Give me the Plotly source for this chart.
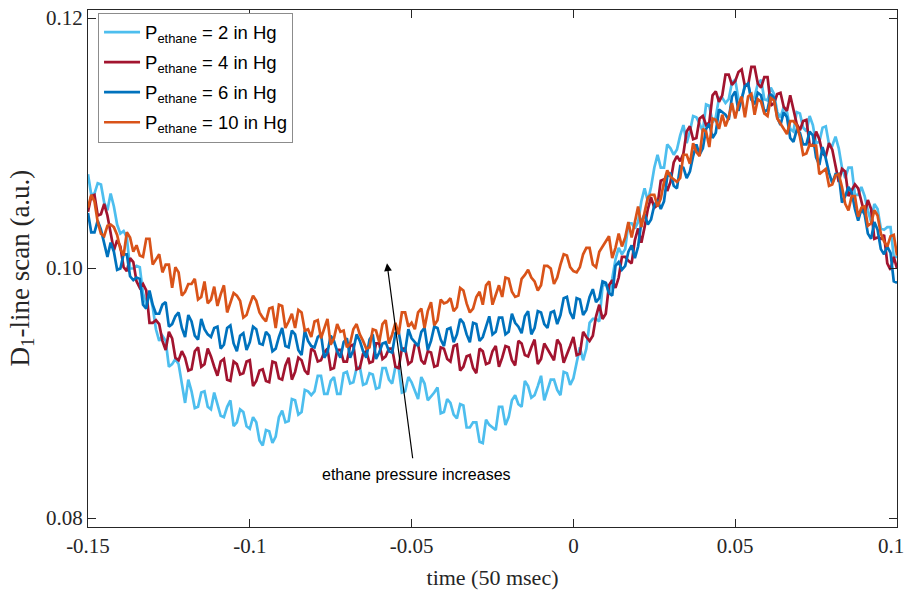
import numpy as np
import plotly.graph_objects as go

# time axis (50 msec units): samples every 0.001 from -0.15 to 0.10
time = np.round(np.linspace(-0.15, 0.10, 251), 4)

# D1-line scan signal, raw readings (units of 1e-4) taken against the frame edges;
# converted below to axis units with the frame calibration (frame = 0.07928 .. 0.12064).
# "_even" = samples at -0.150, -0.148, ... ; "_odd" = samples at -0.149, -0.147, ...
p2_even = [1073, 1058, 1065, 1045, 1048, 1027, 1024, 1000, 1001, 972,
           970, 944, 944, 926, 926, 896, 905, 893, 905, 891,
           895, 885, 898, 881, 889, 876, 881, 863, 874, 870,
           890, 882, 898, 889, 905, 905, 917, 903, 916, 903,
           920, 912, 924, 911, 918, 908, 923, 911, 923, 905,
           912, 899, 911, 901, 908, 889, 896, 884, 894, 877,
           881, 865, 879, 875, 893, 885, 902, 893, 909, 902,
           917, 906, 914, 902, 919, 915, 939, 938, 961, 959,
           989, 992, 1016, 1015, 1035, 1036, 1062, 1063, 1088, 1078,
           1093, 1092, 1111, 1106, 1117, 1106, 1126, 1117, 1132, 1131,
           1146, 1131, 1143, 1133, 1146, 1130, 1135, 1117, 1121, 1106,
           1120, 1106, 1111, 1098, 1110, 1095, 1093, 1070, 1078, 1057,
           1056, 1036, 1046, 1030, 1032, 1009]
p2_odd = [1057, 1066, 1051, 1058, 1034, 1029, 1000, 1002, 981, 981,
          953, 948, 924, 930, 910, 914, 892, 904, 893, 904,
          886, 893, 878, 891, 878, 885, 867, 875, 865, 885,
          881, 899, 887, 906, 902, 917, 903, 913, 903, 919,
          911, 923, 910, 919, 907, 923, 914, 924, 904, 916,
          906, 916, 898, 904, 888, 899, 887, 895, 877, 881,
          866, 883, 877, 893, 879, 898, 895, 913, 900, 909,
          898, 914, 906, 920, 910, 928, 929, 958, 961, 986,
          980, 1007, 1011, 1035, 1031, 1052, 1052, 1078, 1078, 1096,
          1088, 1103, 1097, 1118, 1112, 1127, 1113, 1132, 1128, 1144,
          1131, 1142, 1130, 1143, 1131, 1140, 1121, 1125, 1108, 1121,
          1109, 1118, 1097, 1109, 1096, 1102, 1078, 1078, 1057, 1063,
          1045, 1050, 1031, 1032, 1009]

p4_even = [1044, 1057, 1042, 1041, 1014, 1017, 998, 1005, 985, 983,
           958, 957, 937, 946, 929, 931, 922, 939, 926, 932,
           917, 930, 913, 926, 919, 929, 913, 922, 912, 927,
           914, 931, 920, 929, 918, 936, 929, 938, 923, 937,
           928, 941, 923, 936, 928, 942, 932, 938, 923, 938,
           928, 941, 926, 935, 925, 938, 928, 941, 924, 933,
           919, 936, 927, 940, 931, 939, 925, 942, 932, 945,
           930, 938, 929, 941, 933, 947, 934, 947, 948, 972,
           965, 991, 993, 1009, 1004, 1031, 1032, 1055, 1049, 1069,
           1067, 1087, 1089, 1110, 1101, 1118, 1113, 1137, 1134, 1150,
           1145, 1154, 1142, 1156, 1140, 1148, 1128, 1136, 1122, 1123,
           1107, 1115, 1095, 1100, 1087, 1092, 1067, 1075, 1060, 1062,
           1042, 1046, 1024, 1026, 999, 1000]
p4_odd = [1056, 1041, 1050, 1027, 1022, 1001, 1008, 990, 988, 958,
          960, 944, 951, 931, 936, 921, 936, 924, 938, 924,
          928, 914, 928, 918, 928, 909, 921, 913, 928, 915,
          925, 914, 931, 921, 938, 928, 935, 922, 937, 928,
          940, 922, 934, 927, 942, 930, 938, 924, 938, 926,
          941, 929, 936, 924, 939, 930, 940, 921, 932, 923,
          938, 926, 936, 924, 940, 929, 944, 933, 939, 926,
          942, 933, 945, 927, 940, 933, 951, 944, 963, 961,
          987, 985, 1009, 1006, 1022, 1020, 1046, 1047, 1068, 1060,
          1082, 1083, 1106, 1100, 1116, 1111, 1134, 1129, 1150, 1142,
          1152, 1141, 1156, 1143, 1148, 1126, 1135, 1125, 1134, 1112,
          1114, 1096, 1106, 1089, 1097, 1078, 1077, 1056, 1065, 1051,
          1053, 1023, 1023, 1004, 1009]

p6_even = [1043, 1028, 1030, 1009, 1013, 1000, 1011, 991, 992, 969,
           972, 965, 974, 957, 966, 947, 959, 945, 953, 947,
           955, 941, 956, 936, 950, 943, 953, 941, 948, 938,
           954, 939, 949, 933, 944, 939, 949, 935, 944, 931,
           946, 937, 944, 931, 949, 935, 943, 935, 951, 936,
           946, 940, 954, 944, 954, 940, 954, 949, 958, 943,
           957, 947, 963, 951, 962, 951, 958, 950, 967, 954,
           966, 954, 967, 964, 978, 961, 976, 968, 984, 977,
           989, 979, 1005, 1002, 1018, 1017, 1042, 1038, 1053, 1052,
           1074, 1062, 1078, 1075, 1096, 1093, 1112, 1105, 1121, 1115,
           1137, 1131, 1143, 1127, 1134, 1123, 1132, 1111, 1117, 1098,
           1105, 1096, 1103, 1080, 1085, 1066, 1073, 1056, 1059, 1037,
           1042, 1023, 1030, 1011, 1012, 989]
p6_odd = [1028, 1037, 1020, 1020, 999, 1011, 994, 993, 972, 983,
          965, 972, 955, 963, 954, 964, 948, 961, 949, 954,
          938, 954, 942, 948, 937, 955, 942, 951, 936, 947,
          940, 952, 937, 952, 940, 947, 931, 948, 936, 943,
          931, 949, 936, 945, 930, 942, 936, 950, 937, 953,
          943, 951, 937, 955, 945, 953, 943, 961, 949, 958,
          944, 955, 949, 962, 949, 965, 955, 963, 949, 967,
          957, 966, 957, 977, 966, 977, 964, 978, 974, 990,
          981, 1002, 999, 1013, 1008, 1036, 1034, 1049, 1046, 1071,
          1064, 1079, 1070, 1087, 1088, 1108, 1101, 1123, 1119, 1133,
          1122, 1141, 1131, 1136, 1121, 1135, 1117, 1121, 1101, 1107,
          1096, 1106, 1086, 1094, 1074, 1073, 1051, 1063, 1046, 1046,
          1027, 1036, 1015, 1017, 990]

p10_even = [1047, 1052, 1027, 1033, 1032, 1015, 1028, 1013, 1010, 1023,
            1003, 1011, 1003, 985, 997, 982, 988, 976, 990, 976,
            971, 987, 973, 979, 962, 972, 975, 962, 969, 954,
            971, 959, 954, 966, 953, 959, 946, 961, 946, 951,
            939, 953, 949, 938, 953, 943, 960, 949, 949, 966,
            958, 966, 954, 974, 960, 973, 977, 970, 983, 966,
            978, 972, 990, 979, 978, 992, 978, 992, 999, 990,
            987, 1002, 988, 1003, 1010, 998, 1001, 1016, 1003, 1013,
            1021, 1008, 1027, 1024, 1024, 1048, 1043, 1057, 1048, 1067,
            1071, 1067, 1088, 1081, 1090, 1108, 1094, 1115, 1119, 1117,
            1116, 1133, 1133, 1119, 1129, 1118, 1130, 1112, 1104, 1114,
            1102, 1089, 1095, 1073, 1077, 1065, 1073, 1050, 1056, 1040,
            1048, 1035, 1041, 1021, 1025, 1010]
p10_odd = [1057, 1036, 1025, 1034, 1026, 1010, 1024, 1018, 1009, 1023,
           1007, 997, 1003, 1001, 979, 988, 992, 978, 973, 986,
           980, 966, 981, 975, 964, 979, 966, 959, 970, 972,
           954, 965, 968, 952, 947, 960, 954, 941, 957, 952,
           942, 957, 944, 939, 952, 957, 942, 958, 966, 955,
           953, 969, 967, 956, 976, 974, 967, 985, 973, 969,
           982, 987, 972, 987, 993, 982, 979, 995, 993, 983,
           1002, 1000, 993, 1011, 1001, 997, 1011, 1016, 1001, 1017,
           1025, 1016, 1017, 1036, 1037, 1032, 1055, 1057, 1054, 1076,
           1069, 1070, 1088, 1097, 1087, 1106, 1116, 1108, 1110, 1128,
           1127, 1117, 1135, 1131, 1120, 1132, 1116, 1107, 1114, 1111,
           1088, 1096, 1095, 1075, 1064, 1072, 1063, 1045, 1056, 1047,
           1033, 1045, 1027, 1017, 1026]

series_names = ["P<sub>ethane</sub> = 2 in Hg", "P<sub>ethane</sub> = 4 in Hg",
                "P<sub>ethane</sub> = 6 in Hg", "P<sub>ethane</sub> = 10 in Hg"]
series_even = [p2_even, p4_even, p6_even, p10_even]
series_odd = [p2_odd, p4_odd, p6_odd, p10_odd]
colors = ["#4DBEEE", "#A2142F", "#0072BD", "#D95319"]

# the last x label ("0.1") sits on the figure edge, so it is drawn as an annotation
x_tickvals = [-0.15, -0.1, -0.05, 0, 0.05, 0.1]
x_ticktext = ["-0.15", "-0.1", "-0.05", "0", "0.05", ""]
x_edge_label = "0.1"
y_tickvals = [0.08, 0.10, 0.12]
y_ticktext = ["0.08", "0.10", "0.12"]

# frame calibration: raw readings spanned 0.08..0.12 across the frame,
# the axis frame actually spans 0.07928..0.12064
Y_LO, Y_HI = 0.07928, 0.12064


def to_axis(raw):
    frac = (np.asarray(raw, dtype=float) * 1e-4 - 0.08) / 0.04
    return Y_LO + frac * (Y_HI - Y_LO)


fig = go.Figure()
for k, (name, ev, od, col) in enumerate(zip(series_names, series_even, series_odd, colors)):
    y = np.empty(len(ev) + len(od))
    y[0::2] = ev
    y[1::2] = od
    fig.add_trace(go.Scatter(
        x=time, y=to_axis(y), mode="lines", name=name, legendgroup=f"g{k}",
        line=dict(color=col, width=2.7)))

serif = "Liberation Serif"
axis_common = dict(showline=True, linecolor="#262626", linewidth=1, mirror="ticks",
                   ticks="inside", ticklen=8, tickcolor="#262626", showgrid=False,
                   zeroline=False, ticklabeloverflow="allow", automargin=False)

fig.update_xaxes(range=[-0.1500005, 0.1000005], tickvals=x_tickvals, ticktext=x_ticktext,
                 tickfont=dict(family=serif, size=21, color="#262626"),
                 title=dict(text="time (50 msec)", font=dict(family=serif, size=22, color="#262626")),
                 **axis_common)
fig.update_yaxes(range=[Y_LO, Y_HI], tickvals=y_tickvals, ticktext=y_ticktext,
                 tickfont=dict(family=serif, size=21, color="#262626"),
                 **axis_common)

fig.add_annotation(x=1.0, y=-0.0368, xref="paper", yref="paper", xanchor="right",
                   yanchor="middle", xshift=8, text=x_edge_label, showarrow=False,
                   borderpad=0, font=dict(family=serif, size=21, color="#262626"))

# y-axis title as a rotated annotation for precise placement
fig.add_annotation(x=-0.0828, y=0.5, xref="paper", yref="paper", textangle=-90,
                   text="D<sub>1</sub>-line scan (a.u.)", showarrow=False,
                   xanchor="center", yanchor="middle",
                   font=dict(family=serif, size=27, color="#262626"))

fig.add_annotation(x=-0.0576, y=float(to_axis(1004)), ax=-0.0496, ay=float(to_axis(852)),
                   xref="x", yref="y", axref="x", ayref="y", text="", showarrow=True,
                   arrowhead=2, arrowsize=1.3, arrowwidth=1.2, arrowcolor="#000000")
fig.add_annotation(x=-0.0486, y=float(to_axis(841)), xref="x", yref="y",
                   text="ethane pressure increases", showarrow=False,
                   font=dict(family="Liberation Sans", size=16, color="#000000"))

fig.update_layout(
    width=906, height=590,
    margin=dict(l=88, r=9, t=10, b=63, autoexpand=False),
    plot_bgcolor="white", paper_bgcolor="white",
    legend=dict(x=0.0124, y=0.995, xanchor="left", yanchor="top",
                bgcolor="white", bordercolor="#8c8c8c", borderwidth=1,
                font=dict(family="Liberation Sans", size=18.5, color="#000000"),
                tracegroupgap=3, itemwidth=36),
)

fig.write_html("out.html")
